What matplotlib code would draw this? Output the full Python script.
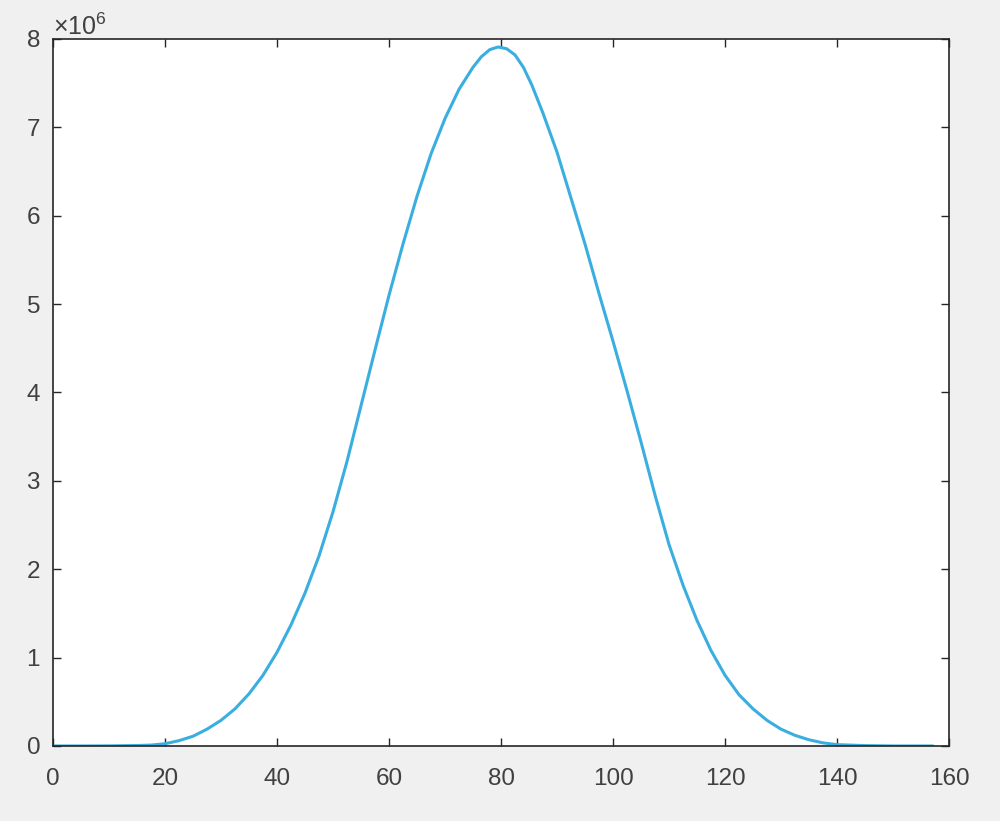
import matplotlib
matplotlib.use('Agg')
import matplotlib.pyplot as plt
from matplotlib.ticker import ScalarFormatter

# values (y in units of 1e6)
x_vals = [0, 5, 10, 15, 17.5, 20, 22.5, 25, 27.5, 30, 32.5, 35, 37.5, 40,
          42.5, 45, 47.5, 50, 52.5, 55, 57.5, 60, 62.5, 65, 67.5, 70,
          72.5, 75, 76.5, 78, 79.5, 81, 82.5, 84, 85.5, 87.5, 90, 92.5, 95, 97.5, 100,
          102.5, 105, 107.5, 110, 112.5, 115, 117.5, 120, 122.5, 125,
          127.5, 130, 132.5, 135, 137.5, 140, 145, 150, 157]
y_vals = [0.0, 0.0, 0.001, 0.005, 0.01, 0.025, 0.06, 0.11, 0.19, 0.29, 0.42, 0.59, 0.80, 1.06,
          1.37, 1.73, 2.15, 2.65, 3.22, 3.85, 4.48, 5.10, 5.68, 6.22, 6.70, 7.10,
          7.43, 7.68, 7.80, 7.88, 7.91, 7.89, 7.82, 7.68, 7.48, 7.16, 6.72, 6.20, 5.68, 5.12, 4.58,
          4.02, 3.44, 2.84, 2.28, 1.82, 1.42, 1.08, 0.80, 0.58, 0.42,
          0.29, 0.19, 0.12, 0.07, 0.035, 0.015, 0.004, 0.0, 0.0]

x_ticks = [0, 20, 40, 60, 80, 100, 120, 140, 160]
y_ticks = [0, 1e6, 2e6, 3e6, 4e6, 5e6, 6e6, 7e6, 8e6]


def main():
    plt.rcParams['font.family'] = ['Liberation Sans', 'DejaVu Sans']
    plt.rcParams['mathtext.fontset'] = 'custom'
    plt.rcParams['mathtext.rm'] = 'Liberation Sans'

    fig = plt.figure(figsize=(10, 8.21), dpi=100, facecolor='#f0f0f0')
    ax = fig.add_axes([0.053, 0.0914, 0.896, 0.8611])
    ax.set_facecolor('white')

    ax.plot(x_vals, [v * 1e6 for v in y_vals], color='#3aaee0', linewidth=2.2,
            solid_joinstyle='round')

    ax.set_xlim(0, 160)
    ax.set_ylim(0, 8e6)
    ax.set_xticks(x_ticks)
    ax.set_yticks(y_ticks)

    fmt = ScalarFormatter(useMathText=True)
    fmt.set_powerlimits((0, 0))
    ax.yaxis.set_major_formatter(fmt)
    ax.yaxis.get_offset_text().set_fontsize(18)
    ax.yaxis.get_offset_text().set_color('#404040')

    for s in ax.spines.values():
        s.set_color('#262626')
        s.set_linewidth(1.2)
    ax.tick_params(direction='in', top=True, right=True, length=6,
                   width=1, colors='#262626', labelsize=17.5, labelcolor='#404040')
    ax.tick_params(axis='x', pad=16)
    ax.tick_params(axis='y', pad=9)

    fig.savefig('out.png', dpi=100, facecolor=fig.get_facecolor())


if __name__ == '__main__':
    main()
